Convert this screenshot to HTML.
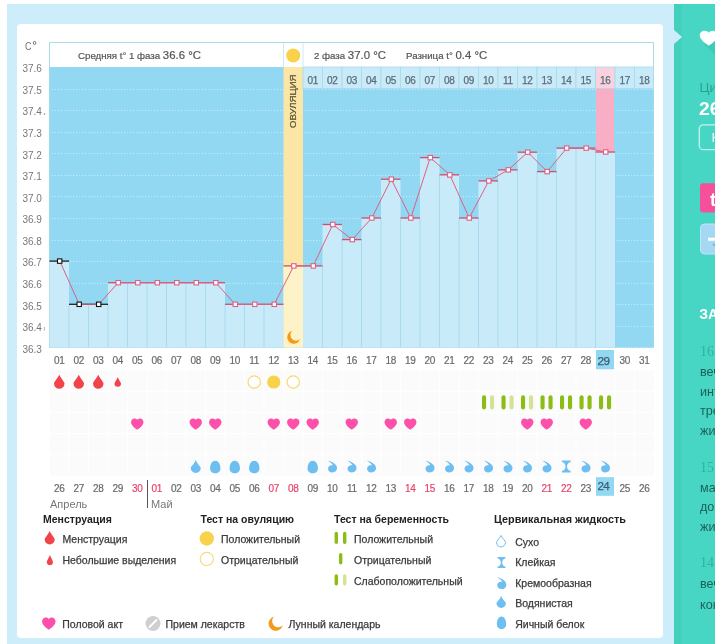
<!DOCTYPE html>
<html><head><meta charset="utf-8">
<style>
*{margin:0;padding:0;box-sizing:border-box}
html,body{width:715px;height:644px;overflow:hidden;background:#fff;font-family:"Liberation Sans",sans-serif}
.abs{position:absolute}
#outer{left:7px;top:4px;width:667px;height:640px;background:#ceedfa}
#panel{left:17px;top:24px;width:646px;height:614px;background:#fff;border-radius:4px}
#teal{left:674px;top:4px;width:41px;height:640px;background:linear-gradient(90deg,#42d0bc 0,#42d0bc 7px,#47d6c3 8px);overflow:hidden}
#tri{left:674px;top:30px;width:0;height:0;border-top:7.5px solid transparent;border-bottom:7.5px solid transparent;border-left:8px solid #ceedfa}
svg{position:absolute;left:0;top:0;will-change:transform}
svg text{font-family:"Liberation Sans",sans-serif}
.rp{position:absolute;left:26px;font-size:13px;white-space:nowrap}
</style></head><body>
<div id="outer" class="abs"></div>
<div id="panel" class="abs"></div>
<div id="teal" class="abs">
  <svg width="41" height="644" viewBox="0 0 41 644" style="top:-4px">
    <path d="M30,44 L60,74 L60,48 L44,32 Z" fill="#3ac2ae" opacity="0.55"/>
    <path transform="translate(25.7,30.7) scale(1.125,0.97)" d="M8,15.4 C7,14.5 0,10 0,4.8 C0,2 2,0 4.6,0 C6.2,0 7.4,0.9 8,2.2 C8.6,0.9 9.8,0 11.4,0 C14,0 16,2 16,4.8 C16,10 9,14.5 8,15.4 Z" fill="#fff"/>
    <text x="25.5" y="91.7" font-size="13.5" fill="#27a491">Цикл</text>
    <text x="25" y="114.8" font-size="19.2" font-weight="bold" fill="#fff">26</text>
    <rect x="25.3" y="124.8" width="40" height="24.9" rx="4" fill="none" stroke="#c4f3ea" stroke-width="1.3"/>
    <text x="37.4" y="141.9" font-size="13.5" fill="#e9fbf8">Н</text>
    <rect x="26" y="183.2" width="40" height="29.4" rx="3" fill="#f5519b"/>
    <text x="36" y="205.5" font-size="18.5" font-weight="bold" fill="#fff">t</text>
    <rect x="26.5" y="224" width="40" height="30" rx="4" fill="#a5d8f2" stroke="#bde6f6" stroke-width="1"/>
    <path d="M38,244 l5,5 l0,-6 Z" fill="#5f8fa6" opacity="0.5"/><path d="M34,237.8 h8 v-5 h3 v5 h8 v3 h-8 v5 h-3 v-5 h-8 Z" fill="#fff"/>
    <text x="25.3" y="318.7" font-size="14" font-weight="bold" fill="#fff">ЗАМЕТКИ</text>
    <text x="26" y="355.5" font-size="14" fill="#34b19f" style="font-family:'Liberation Serif',serif">16 мая</text>
    <text x="26" y="375.7" font-size="12.6" fill="#1b6259">вечером</text>
    <text x="26" y="396.2" font-size="12.6" fill="#1b6259">интенсивные</text>
    <text x="26" y="414.8" font-size="12.6" fill="#1b6259">тренировки</text>
    <text x="26" y="434.5" font-size="12.6" fill="#1b6259">живот</text>
    <text x="26" y="471.8" font-size="14" fill="#34b19f" style="font-family:'Liberation Serif',serif">15 мая</text>
    <text x="26" y="492" font-size="12.6" fill="#1b6259">маленькие</text>
    <text x="26" y="510.5" font-size="12.6" fill="#1b6259">дозы</text>
    <text x="26" y="531.1" font-size="12.6" fill="#1b6259">живот</text>
    <text x="26" y="567.4" font-size="14" fill="#34b19f" style="font-family:'Liberation Serif',serif">14 мая</text>
    <text x="26" y="588.1" font-size="12.6" fill="#1b6259">вечером</text>
    <text x="26" y="608.5" font-size="12.6" fill="#1b6259">конец</text>
  </svg>
</div>
<div id="tri" class="abs"></div>
<svg width="715" height="644" viewBox="0 0 715 644">
<rect x="49.5" y="42.5" width="604" height="305" fill="#fff" stroke="#a9dcea" stroke-width="1"/>
<rect x="49.5" y="67" width="604.0" height="280.5" fill="#92d8f3"/>
<line x1="52" y1="89.5" x2="653" y2="89.5" stroke="#d8f6ff" stroke-width="1" stroke-dasharray="1.2 1.8" opacity="0.65"/>
<line x1="52" y1="110.5" x2="653" y2="110.5" stroke="#d8f6ff" stroke-width="1" stroke-dasharray="1.2 1.8" opacity="0.65"/>
<line x1="52" y1="132.5" x2="653" y2="132.5" stroke="#d8f6ff" stroke-width="1" stroke-dasharray="1.2 1.8" opacity="0.65"/>
<line x1="52" y1="153.5" x2="653" y2="153.5" stroke="#d8f6ff" stroke-width="1" stroke-dasharray="1.2 1.8" opacity="0.65"/>
<line x1="52" y1="175.5" x2="653" y2="175.5" stroke="#d8f6ff" stroke-width="1" stroke-dasharray="1.2 1.8" opacity="0.65"/>
<line x1="52" y1="196.5" x2="653" y2="196.5" stroke="#d8f6ff" stroke-width="1" stroke-dasharray="1.2 1.8" opacity="0.65"/>
<line x1="52" y1="218.5" x2="653" y2="218.5" stroke="#d8f6ff" stroke-width="1" stroke-dasharray="1.2 1.8" opacity="0.65"/>
<line x1="52" y1="240.5" x2="653" y2="240.5" stroke="#d8f6ff" stroke-width="1" stroke-dasharray="1.2 1.8" opacity="0.65"/>
<line x1="52" y1="261.5" x2="653" y2="261.5" stroke="#d8f6ff" stroke-width="1" stroke-dasharray="1.2 1.8" opacity="0.65"/>
<line x1="52" y1="283.5" x2="653" y2="283.5" stroke="#d8f6ff" stroke-width="1" stroke-dasharray="1.2 1.8" opacity="0.65"/>
<line x1="52" y1="304.5" x2="653" y2="304.5" stroke="#d8f6ff" stroke-width="1" stroke-dasharray="1.2 1.8" opacity="0.65"/>
<line x1="52" y1="326.5" x2="653" y2="326.5" stroke="#d8f6ff" stroke-width="1" stroke-dasharray="1.2 1.8" opacity="0.65"/>
<line x1="52" y1="347.5" x2="653" y2="347.5" stroke="#d8f6ff" stroke-width="1" stroke-dasharray="1.2 1.8" opacity="0.65"/>
<rect x="283.5" y="67" width="19.5" height="280.5" fill="#fbe6a5"/>
<rect x="596" y="67" width="18" height="85.0" fill="#f8afc5"/>
<rect x="49.5" y="261.1" width="19.5" height="86.4" fill="#c9eaf9"/>
<rect x="69.0" y="304.3" width="19.5" height="43.2" fill="#c9eaf9"/>
<rect x="88.5" y="304.3" width="19.5" height="43.2" fill="#c9eaf9"/>
<rect x="108.0" y="282.7" width="19.5" height="64.8" fill="#c9eaf9"/>
<rect x="127.5" y="282.7" width="19.5" height="64.8" fill="#c9eaf9"/>
<rect x="147.0" y="282.7" width="19.5" height="64.8" fill="#c9eaf9"/>
<rect x="166.5" y="282.7" width="19.5" height="64.8" fill="#c9eaf9"/>
<rect x="186.0" y="282.7" width="19.5" height="64.8" fill="#c9eaf9"/>
<rect x="205.5" y="282.7" width="19.5" height="64.8" fill="#c9eaf9"/>
<rect x="225.0" y="304.3" width="19.5" height="43.2" fill="#c9eaf9"/>
<rect x="244.5" y="304.3" width="19.5" height="43.2" fill="#c9eaf9"/>
<rect x="264.0" y="304.3" width="19.5" height="43.2" fill="#c9eaf9"/>
<rect x="283.5" y="265.9" width="19.5" height="81.6" fill="#fef2c9"/>
<rect x="303.0" y="265.9" width="19.5" height="81.6" fill="#c9eaf9"/>
<rect x="322.5" y="224.5" width="19.5" height="123.0" fill="#c9eaf9"/>
<rect x="342.0" y="239.6" width="19.5" height="107.9" fill="#c9eaf9"/>
<rect x="361.5" y="218.0" width="19.5" height="129.5" fill="#c9eaf9"/>
<rect x="381.0" y="179.2" width="19.5" height="168.3" fill="#c9eaf9"/>
<rect x="400.5" y="218.0" width="19.5" height="129.5" fill="#c9eaf9"/>
<rect x="420.0" y="157.6" width="19.5" height="189.9" fill="#c9eaf9"/>
<rect x="439.5" y="174.8" width="19.5" height="172.7" fill="#c9eaf9"/>
<rect x="459.0" y="218.0" width="19.5" height="129.5" fill="#c9eaf9"/>
<rect x="478.5" y="180.9" width="19.5" height="166.6" fill="#c9eaf9"/>
<rect x="498.0" y="169.9" width="19.5" height="177.6" fill="#c9eaf9"/>
<rect x="517.5" y="152.2" width="19.5" height="195.3" fill="#c9eaf9"/>
<rect x="537.0" y="171.6" width="19.5" height="175.9" fill="#c9eaf9"/>
<rect x="556.5" y="148.1" width="19.5" height="199.4" fill="#c9eaf9"/>
<rect x="576.0" y="148.1" width="19.5" height="199.4" fill="#c9eaf9"/>
<rect x="595.5" y="152.0" width="19.5" height="195.5" fill="#c9eaf9"/>
<line x1="69.0" y1="304.3" x2="69.0" y2="347.5" stroke="#a9dbef" stroke-width="1"/>
<line x1="88.5" y1="304.3" x2="88.5" y2="347.5" stroke="#a9dbef" stroke-width="1"/>
<line x1="108.0" y1="304.3" x2="108.0" y2="347.5" stroke="#a9dbef" stroke-width="1"/>
<line x1="127.5" y1="282.7" x2="127.5" y2="347.5" stroke="#a9dbef" stroke-width="1"/>
<line x1="147.0" y1="282.7" x2="147.0" y2="347.5" stroke="#a9dbef" stroke-width="1"/>
<line x1="166.5" y1="282.7" x2="166.5" y2="347.5" stroke="#a9dbef" stroke-width="1"/>
<line x1="186.0" y1="282.7" x2="186.0" y2="347.5" stroke="#a9dbef" stroke-width="1"/>
<line x1="205.5" y1="282.7" x2="205.5" y2="347.5" stroke="#a9dbef" stroke-width="1"/>
<line x1="225.0" y1="304.3" x2="225.0" y2="347.5" stroke="#a9dbef" stroke-width="1"/>
<line x1="244.5" y1="304.3" x2="244.5" y2="347.5" stroke="#a9dbef" stroke-width="1"/>
<line x1="264.0" y1="304.3" x2="264.0" y2="347.5" stroke="#a9dbef" stroke-width="1"/>
<line x1="322.5" y1="265.9" x2="322.5" y2="347.5" stroke="#a9dbef" stroke-width="1"/>
<line x1="342.0" y1="239.6" x2="342.0" y2="347.5" stroke="#a9dbef" stroke-width="1"/>
<line x1="361.5" y1="239.6" x2="361.5" y2="347.5" stroke="#a9dbef" stroke-width="1"/>
<line x1="381.0" y1="218.0" x2="381.0" y2="347.5" stroke="#a9dbef" stroke-width="1"/>
<line x1="400.5" y1="218.0" x2="400.5" y2="347.5" stroke="#a9dbef" stroke-width="1"/>
<line x1="420.0" y1="218.0" x2="420.0" y2="347.5" stroke="#a9dbef" stroke-width="1"/>
<line x1="439.5" y1="174.8" x2="439.5" y2="347.5" stroke="#a9dbef" stroke-width="1"/>
<line x1="459.0" y1="218.0" x2="459.0" y2="347.5" stroke="#a9dbef" stroke-width="1"/>
<line x1="478.5" y1="218.0" x2="478.5" y2="347.5" stroke="#a9dbef" stroke-width="1"/>
<line x1="498.0" y1="180.9" x2="498.0" y2="347.5" stroke="#a9dbef" stroke-width="1"/>
<line x1="517.5" y1="169.9" x2="517.5" y2="347.5" stroke="#a9dbef" stroke-width="1"/>
<line x1="537.0" y1="171.6" x2="537.0" y2="347.5" stroke="#a9dbef" stroke-width="1"/>
<line x1="556.5" y1="171.6" x2="556.5" y2="347.5" stroke="#a9dbef" stroke-width="1"/>
<line x1="576.0" y1="148.1" x2="576.0" y2="347.5" stroke="#a9dbef" stroke-width="1"/>
<line x1="595.5" y1="152.0" x2="595.5" y2="347.5" stroke="#a9dbef" stroke-width="1"/>
<rect x="303.0" y="67" width="19.5" height="21.5" fill="#c9eaf9" stroke="#a9d9ee" stroke-width="0.8"/>
<text x="312.8" y="84" text-anchor="middle" font-size="10" fill="#5b6d7a" stroke="#5b6d7a" stroke-width="0.25" letter-spacing="-0.3">01</text>
<rect x="322.5" y="67" width="19.5" height="21.5" fill="#c9eaf9" stroke="#a9d9ee" stroke-width="0.8"/>
<text x="332.2" y="84" text-anchor="middle" font-size="10" fill="#5b6d7a" stroke="#5b6d7a" stroke-width="0.25" letter-spacing="-0.3">02</text>
<rect x="342.0" y="67" width="19.5" height="21.5" fill="#c9eaf9" stroke="#a9d9ee" stroke-width="0.8"/>
<text x="351.8" y="84" text-anchor="middle" font-size="10" fill="#5b6d7a" stroke="#5b6d7a" stroke-width="0.25" letter-spacing="-0.3">03</text>
<rect x="361.5" y="67" width="19.5" height="21.5" fill="#c9eaf9" stroke="#a9d9ee" stroke-width="0.8"/>
<text x="371.2" y="84" text-anchor="middle" font-size="10" fill="#5b6d7a" stroke="#5b6d7a" stroke-width="0.25" letter-spacing="-0.3">04</text>
<rect x="381.0" y="67" width="19.5" height="21.5" fill="#c9eaf9" stroke="#a9d9ee" stroke-width="0.8"/>
<text x="390.8" y="84" text-anchor="middle" font-size="10" fill="#5b6d7a" stroke="#5b6d7a" stroke-width="0.25" letter-spacing="-0.3">05</text>
<rect x="400.5" y="67" width="19.5" height="21.5" fill="#c9eaf9" stroke="#a9d9ee" stroke-width="0.8"/>
<text x="410.2" y="84" text-anchor="middle" font-size="10" fill="#5b6d7a" stroke="#5b6d7a" stroke-width="0.25" letter-spacing="-0.3">06</text>
<rect x="420.0" y="67" width="19.5" height="21.5" fill="#c9eaf9" stroke="#a9d9ee" stroke-width="0.8"/>
<text x="429.8" y="84" text-anchor="middle" font-size="10" fill="#5b6d7a" stroke="#5b6d7a" stroke-width="0.25" letter-spacing="-0.3">07</text>
<rect x="439.5" y="67" width="19.5" height="21.5" fill="#c9eaf9" stroke="#a9d9ee" stroke-width="0.8"/>
<text x="449.2" y="84" text-anchor="middle" font-size="10" fill="#5b6d7a" stroke="#5b6d7a" stroke-width="0.25" letter-spacing="-0.3">08</text>
<rect x="459.0" y="67" width="19.5" height="21.5" fill="#c9eaf9" stroke="#a9d9ee" stroke-width="0.8"/>
<text x="468.8" y="84" text-anchor="middle" font-size="10" fill="#5b6d7a" stroke="#5b6d7a" stroke-width="0.25" letter-spacing="-0.3">09</text>
<rect x="478.5" y="67" width="19.5" height="21.5" fill="#c9eaf9" stroke="#a9d9ee" stroke-width="0.8"/>
<text x="488.2" y="84" text-anchor="middle" font-size="10" fill="#5b6d7a" stroke="#5b6d7a" stroke-width="0.25" letter-spacing="-0.3">10</text>
<rect x="498.0" y="67" width="19.5" height="21.5" fill="#c9eaf9" stroke="#a9d9ee" stroke-width="0.8"/>
<text x="507.8" y="84" text-anchor="middle" font-size="10" fill="#5b6d7a" stroke="#5b6d7a" stroke-width="0.25" letter-spacing="-0.3">11</text>
<rect x="517.5" y="67" width="19.5" height="21.5" fill="#c9eaf9" stroke="#a9d9ee" stroke-width="0.8"/>
<text x="527.2" y="84" text-anchor="middle" font-size="10" fill="#5b6d7a" stroke="#5b6d7a" stroke-width="0.25" letter-spacing="-0.3">12</text>
<rect x="537.0" y="67" width="19.5" height="21.5" fill="#c9eaf9" stroke="#a9d9ee" stroke-width="0.8"/>
<text x="546.8" y="84" text-anchor="middle" font-size="10" fill="#5b6d7a" stroke="#5b6d7a" stroke-width="0.25" letter-spacing="-0.3">13</text>
<rect x="556.5" y="67" width="19.5" height="21.5" fill="#c9eaf9" stroke="#a9d9ee" stroke-width="0.8"/>
<text x="566.2" y="84" text-anchor="middle" font-size="10" fill="#5b6d7a" stroke="#5b6d7a" stroke-width="0.25" letter-spacing="-0.3">14</text>
<rect x="576.0" y="67" width="19.5" height="21.5" fill="#c9eaf9" stroke="#a9d9ee" stroke-width="0.8"/>
<text x="585.8" y="84" text-anchor="middle" font-size="10" fill="#5b6d7a" stroke="#5b6d7a" stroke-width="0.25" letter-spacing="-0.3">15</text>
<rect x="595.5" y="67" width="19.5" height="21.5" fill="#fad2de" stroke="#a9d9ee" stroke-width="0.8"/>
<text x="605.2" y="84" text-anchor="middle" font-size="10" fill="#5b6d7a" stroke="#5b6d7a" stroke-width="0.25" letter-spacing="-0.3">16</text>
<rect x="615.0" y="67" width="19.5" height="21.5" fill="#c9eaf9" stroke="#a9d9ee" stroke-width="0.8"/>
<text x="624.8" y="84" text-anchor="middle" font-size="10" fill="#5b6d7a" stroke="#5b6d7a" stroke-width="0.25" letter-spacing="-0.3">17</text>
<rect x="634.5" y="67" width="19.0" height="21.5" fill="#c9eaf9" stroke="#a9d9ee" stroke-width="0.8"/>
<text x="644.2" y="84" text-anchor="middle" font-size="10" fill="#5b6d7a" stroke="#5b6d7a" stroke-width="0.25" letter-spacing="-0.3">18</text>
<line x1="49.5" y1="261.1" x2="69.0" y2="261.1" stroke="#222" stroke-width="1.3"/>
<line x1="69.0" y1="304.3" x2="88.5" y2="304.3" stroke="#222" stroke-width="1.3"/>
<line x1="88.5" y1="304.3" x2="108.0" y2="304.3" stroke="#222" stroke-width="1.3"/>
<line x1="108.0" y1="282.7" x2="127.5" y2="282.7" stroke="#d24d6b" stroke-width="1.3"/>
<line x1="127.5" y1="282.7" x2="147.0" y2="282.7" stroke="#d24d6b" stroke-width="1.3"/>
<line x1="147.0" y1="282.7" x2="166.5" y2="282.7" stroke="#d24d6b" stroke-width="1.3"/>
<line x1="166.5" y1="282.7" x2="186.0" y2="282.7" stroke="#d24d6b" stroke-width="1.3"/>
<line x1="186.0" y1="282.7" x2="205.5" y2="282.7" stroke="#d24d6b" stroke-width="1.3"/>
<line x1="205.5" y1="282.7" x2="225.0" y2="282.7" stroke="#d24d6b" stroke-width="1.3"/>
<line x1="225.0" y1="304.3" x2="244.5" y2="304.3" stroke="#d24d6b" stroke-width="1.3"/>
<line x1="244.5" y1="304.3" x2="264.0" y2="304.3" stroke="#d24d6b" stroke-width="1.3"/>
<line x1="264.0" y1="304.3" x2="283.5" y2="304.3" stroke="#d24d6b" stroke-width="1.3"/>
<line x1="283.5" y1="265.9" x2="303.0" y2="265.9" stroke="#d24d6b" stroke-width="1.3"/>
<line x1="303.0" y1="265.9" x2="322.5" y2="265.9" stroke="#d24d6b" stroke-width="1.3"/>
<line x1="322.5" y1="224.5" x2="342.0" y2="224.5" stroke="#d24d6b" stroke-width="1.3"/>
<line x1="342.0" y1="239.6" x2="361.5" y2="239.6" stroke="#d24d6b" stroke-width="1.3"/>
<line x1="361.5" y1="218.0" x2="381.0" y2="218.0" stroke="#d24d6b" stroke-width="1.3"/>
<line x1="381.0" y1="179.2" x2="400.5" y2="179.2" stroke="#d24d6b" stroke-width="1.3"/>
<line x1="400.5" y1="218.0" x2="420.0" y2="218.0" stroke="#d24d6b" stroke-width="1.3"/>
<line x1="420.0" y1="157.6" x2="439.5" y2="157.6" stroke="#d24d6b" stroke-width="1.3"/>
<line x1="439.5" y1="174.8" x2="459.0" y2="174.8" stroke="#d24d6b" stroke-width="1.3"/>
<line x1="459.0" y1="218.0" x2="478.5" y2="218.0" stroke="#d24d6b" stroke-width="1.3"/>
<line x1="478.5" y1="180.9" x2="498.0" y2="180.9" stroke="#d24d6b" stroke-width="1.3"/>
<line x1="498.0" y1="169.9" x2="517.5" y2="169.9" stroke="#d24d6b" stroke-width="1.3"/>
<line x1="517.5" y1="152.2" x2="537.0" y2="152.2" stroke="#d24d6b" stroke-width="1.3"/>
<line x1="537.0" y1="171.6" x2="556.5" y2="171.6" stroke="#d24d6b" stroke-width="1.3"/>
<line x1="556.5" y1="148.1" x2="576.0" y2="148.1" stroke="#d24d6b" stroke-width="1.3"/>
<line x1="576.0" y1="148.1" x2="595.5" y2="148.1" stroke="#d24d6b" stroke-width="1.3"/>
<line x1="595.5" y1="152.0" x2="615.0" y2="152.0" stroke="#d24d6b" stroke-width="1.3"/>
<polyline points="59.8,261.1 79.2,304.3 98.8,304.3 118.2,282.7 137.8,282.7 157.2,282.7 176.8,282.7 196.2,282.7 215.8,282.7 235.2,304.3 254.8,304.3 274.2,304.3 293.8,265.9 313.2,265.9 332.8,224.5 352.2,239.6 371.8,218.0 391.2,179.2 410.8,218.0 430.2,157.6 449.8,174.8 469.2,218.0 488.8,180.9 508.2,169.9 527.8,152.2 547.2,171.6 566.8,148.1 586.2,148.1 605.8,152.0" fill="none" stroke="#dc6284" stroke-width="1"/>
<rect x="57.5" y="258.9" width="4.4" height="4.4" fill="#fff" stroke="#111" stroke-width="1.1"/>
<rect x="77.0" y="302.1" width="4.4" height="4.4" fill="#fff" stroke="#111" stroke-width="1.1"/>
<rect x="96.5" y="302.1" width="4.4" height="4.4" fill="#fff" stroke="#111" stroke-width="1.1"/>
<rect x="116.0" y="280.5" width="4.4" height="4.4" fill="#fff" stroke="#dc6284" stroke-width="1.1"/>
<rect x="135.6" y="280.5" width="4.4" height="4.4" fill="#fff" stroke="#dc6284" stroke-width="1.1"/>
<rect x="155.1" y="280.5" width="4.4" height="4.4" fill="#fff" stroke="#dc6284" stroke-width="1.1"/>
<rect x="174.6" y="280.5" width="4.4" height="4.4" fill="#fff" stroke="#dc6284" stroke-width="1.1"/>
<rect x="194.1" y="280.5" width="4.4" height="4.4" fill="#fff" stroke="#dc6284" stroke-width="1.1"/>
<rect x="213.6" y="280.5" width="4.4" height="4.4" fill="#fff" stroke="#dc6284" stroke-width="1.1"/>
<rect x="233.1" y="302.1" width="4.4" height="4.4" fill="#fff" stroke="#dc6284" stroke-width="1.1"/>
<rect x="252.6" y="302.1" width="4.4" height="4.4" fill="#fff" stroke="#dc6284" stroke-width="1.1"/>
<rect x="272.1" y="302.1" width="4.4" height="4.4" fill="#fff" stroke="#dc6284" stroke-width="1.1"/>
<rect x="291.6" y="263.7" width="4.4" height="4.4" fill="#fff" stroke="#dc6284" stroke-width="1.1"/>
<rect x="311.1" y="263.7" width="4.4" height="4.4" fill="#fff" stroke="#dc6284" stroke-width="1.1"/>
<rect x="330.6" y="222.3" width="4.4" height="4.4" fill="#fff" stroke="#dc6284" stroke-width="1.1"/>
<rect x="350.1" y="237.4" width="4.4" height="4.4" fill="#fff" stroke="#dc6284" stroke-width="1.1"/>
<rect x="369.6" y="215.8" width="4.4" height="4.4" fill="#fff" stroke="#dc6284" stroke-width="1.1"/>
<rect x="389.1" y="177.0" width="4.4" height="4.4" fill="#fff" stroke="#dc6284" stroke-width="1.1"/>
<rect x="408.6" y="215.8" width="4.4" height="4.4" fill="#fff" stroke="#dc6284" stroke-width="1.1"/>
<rect x="428.1" y="155.4" width="4.4" height="4.4" fill="#fff" stroke="#dc6284" stroke-width="1.1"/>
<rect x="447.6" y="172.7" width="4.4" height="4.4" fill="#fff" stroke="#dc6284" stroke-width="1.1"/>
<rect x="467.1" y="215.8" width="4.4" height="4.4" fill="#fff" stroke="#dc6284" stroke-width="1.1"/>
<rect x="486.6" y="178.7" width="4.4" height="4.4" fill="#fff" stroke="#dc6284" stroke-width="1.1"/>
<rect x="506.1" y="167.7" width="4.4" height="4.4" fill="#fff" stroke="#dc6284" stroke-width="1.1"/>
<rect x="525.5" y="150.0" width="4.4" height="4.4" fill="#fff" stroke="#dc6284" stroke-width="1.1"/>
<rect x="545.0" y="169.4" width="4.4" height="4.4" fill="#fff" stroke="#dc6284" stroke-width="1.1"/>
<rect x="564.5" y="145.9" width="4.4" height="4.4" fill="#fff" stroke="#dc6284" stroke-width="1.1"/>
<rect x="584.0" y="145.9" width="4.4" height="4.4" fill="#fff" stroke="#dc6284" stroke-width="1.1"/>
<rect x="603.5" y="149.8" width="4.4" height="4.4" fill="#fff" stroke="#dc6284" stroke-width="1.1"/>
<line x1="283.5" y1="43" x2="283.5" y2="67" stroke="#cfe9f3" stroke-width="1"/>
<line x1="303.0" y1="43" x2="303.0" y2="67" stroke="#cfe9f3" stroke-width="1"/>
<circle cx="293.2" cy="55.5" r="7" fill="#f8d24a"/>
<text transform="translate(296,128) rotate(-90)" font-size="9.6" fill="#5a5238" stroke="#5a5238" stroke-width="0.2" letter-spacing="0">ОВУЛЯЦИЯ</text>
<path d="M292.20,331.00 A6.5,6.5 0 1 0 300.00,339.12 A5.20,5.20 0 0 1 292.20,331.00 Z" fill="#f39a1d"/>
<text x="78" y="58.7" font-size="9.7" fill="#555" stroke="#555" stroke-width="0.2">Средняя t° 1 фаза <tspan font-size="11.4">36.6 °C</tspan></text>
<text x="314" y="58.7" font-size="9.7" fill="#555" stroke="#555" stroke-width="0.2">2 фаза <tspan font-size="11.4">37.0 °C</tspan></text>
<text x="406" y="58.7" font-size="9.7" fill="#555" stroke="#555" stroke-width="0.2">Разница t° <tspan font-size="11.4">0.4 °C</tspan></text>
<text transform="translate(25,50) scale(0.82,1)" font-size="11" fill="#6f6f6f">C</text>
<ellipse cx="34.6" cy="42.9" rx="1.3" ry="1.5" fill="none" stroke="#666" stroke-width="0.9"/>
<text x="22.6" y="72.3" font-size="10" fill="#777" letter-spacing="-0.1">37.6</text>
<text x="22.6" y="93.9" font-size="10" fill="#777" letter-spacing="-0.1">37.5</text>
<text x="22.6" y="115.4" font-size="10" fill="#777" letter-spacing="-0.1">37.4</text>
<text x="22.6" y="137.0" font-size="10" fill="#777" letter-spacing="-0.1">37.3</text>
<text x="22.6" y="158.6" font-size="10" fill="#777" letter-spacing="-0.1">37.2</text>
<text x="22.6" y="180.2" font-size="10" fill="#777" letter-spacing="-0.1">37.1</text>
<text x="22.6" y="201.7" font-size="10" fill="#777" letter-spacing="-0.1">37.0</text>
<text x="22.6" y="223.3" font-size="10" fill="#777" letter-spacing="-0.1">36.9</text>
<text x="22.6" y="244.9" font-size="10" fill="#777" letter-spacing="-0.1">36.8</text>
<text x="22.6" y="266.4" font-size="10" fill="#777" letter-spacing="-0.1">36.7</text>
<text x="22.6" y="288.0" font-size="10" fill="#777" letter-spacing="-0.1">36.6</text>
<text x="22.6" y="309.6" font-size="10" fill="#777" letter-spacing="-0.1">36.5</text>
<text x="22.6" y="331.1" font-size="10" fill="#777" letter-spacing="-0.1">36.4</text>
<text x="22.6" y="352.7" font-size="10" fill="#777" letter-spacing="-0.1">36.3</text>
<circle cx="44.5" cy="113.9" r="0.75" fill="#777"/>
<line x1="44.4" y1="327" x2="44.4" y2="330.5" stroke="#999" stroke-width="0.8"/>
<text x="59.2" y="364" text-anchor="middle" font-size="10" fill="#6a6a6a" stroke="#6a6a6a" stroke-width="0.2" letter-spacing="-0.3">01</text>
<text x="78.8" y="364" text-anchor="middle" font-size="10" fill="#6a6a6a" stroke="#6a6a6a" stroke-width="0.2" letter-spacing="-0.3">02</text>
<text x="98.2" y="364" text-anchor="middle" font-size="10" fill="#6a6a6a" stroke="#6a6a6a" stroke-width="0.2" letter-spacing="-0.3">03</text>
<text x="117.8" y="364" text-anchor="middle" font-size="10" fill="#6a6a6a" stroke="#6a6a6a" stroke-width="0.2" letter-spacing="-0.3">04</text>
<text x="137.2" y="364" text-anchor="middle" font-size="10" fill="#6a6a6a" stroke="#6a6a6a" stroke-width="0.2" letter-spacing="-0.3">05</text>
<text x="156.8" y="364" text-anchor="middle" font-size="10" fill="#6a6a6a" stroke="#6a6a6a" stroke-width="0.2" letter-spacing="-0.3">06</text>
<text x="176.2" y="364" text-anchor="middle" font-size="10" fill="#6a6a6a" stroke="#6a6a6a" stroke-width="0.2" letter-spacing="-0.3">07</text>
<text x="195.8" y="364" text-anchor="middle" font-size="10" fill="#6a6a6a" stroke="#6a6a6a" stroke-width="0.2" letter-spacing="-0.3">08</text>
<text x="215.2" y="364" text-anchor="middle" font-size="10" fill="#6a6a6a" stroke="#6a6a6a" stroke-width="0.2" letter-spacing="-0.3">09</text>
<text x="234.8" y="364" text-anchor="middle" font-size="10" fill="#6a6a6a" stroke="#6a6a6a" stroke-width="0.2" letter-spacing="-0.3">10</text>
<text x="254.2" y="364" text-anchor="middle" font-size="10" fill="#6a6a6a" stroke="#6a6a6a" stroke-width="0.2" letter-spacing="-0.3">11</text>
<text x="273.8" y="364" text-anchor="middle" font-size="10" fill="#6a6a6a" stroke="#6a6a6a" stroke-width="0.2" letter-spacing="-0.3">12</text>
<text x="293.2" y="364" text-anchor="middle" font-size="10" fill="#6a6a6a" stroke="#6a6a6a" stroke-width="0.2" letter-spacing="-0.3">13</text>
<text x="312.8" y="364" text-anchor="middle" font-size="10" fill="#6a6a6a" stroke="#6a6a6a" stroke-width="0.2" letter-spacing="-0.3">14</text>
<text x="332.2" y="364" text-anchor="middle" font-size="10" fill="#6a6a6a" stroke="#6a6a6a" stroke-width="0.2" letter-spacing="-0.3">15</text>
<text x="351.8" y="364" text-anchor="middle" font-size="10" fill="#6a6a6a" stroke="#6a6a6a" stroke-width="0.2" letter-spacing="-0.3">16</text>
<text x="371.2" y="364" text-anchor="middle" font-size="10" fill="#6a6a6a" stroke="#6a6a6a" stroke-width="0.2" letter-spacing="-0.3">17</text>
<text x="390.8" y="364" text-anchor="middle" font-size="10" fill="#6a6a6a" stroke="#6a6a6a" stroke-width="0.2" letter-spacing="-0.3">18</text>
<text x="410.2" y="364" text-anchor="middle" font-size="10" fill="#6a6a6a" stroke="#6a6a6a" stroke-width="0.2" letter-spacing="-0.3">19</text>
<text x="429.8" y="364" text-anchor="middle" font-size="10" fill="#6a6a6a" stroke="#6a6a6a" stroke-width="0.2" letter-spacing="-0.3">20</text>
<text x="449.2" y="364" text-anchor="middle" font-size="10" fill="#6a6a6a" stroke="#6a6a6a" stroke-width="0.2" letter-spacing="-0.3">21</text>
<text x="468.8" y="364" text-anchor="middle" font-size="10" fill="#6a6a6a" stroke="#6a6a6a" stroke-width="0.2" letter-spacing="-0.3">22</text>
<text x="488.2" y="364" text-anchor="middle" font-size="10" fill="#6a6a6a" stroke="#6a6a6a" stroke-width="0.2" letter-spacing="-0.3">23</text>
<text x="507.8" y="364" text-anchor="middle" font-size="10" fill="#6a6a6a" stroke="#6a6a6a" stroke-width="0.2" letter-spacing="-0.3">24</text>
<text x="527.2" y="364" text-anchor="middle" font-size="10" fill="#6a6a6a" stroke="#6a6a6a" stroke-width="0.2" letter-spacing="-0.3">25</text>
<text x="546.8" y="364" text-anchor="middle" font-size="10" fill="#6a6a6a" stroke="#6a6a6a" stroke-width="0.2" letter-spacing="-0.3">26</text>
<text x="566.2" y="364" text-anchor="middle" font-size="10" fill="#6a6a6a" stroke="#6a6a6a" stroke-width="0.2" letter-spacing="-0.3">27</text>
<text x="585.8" y="364" text-anchor="middle" font-size="10" fill="#6a6a6a" stroke="#6a6a6a" stroke-width="0.2" letter-spacing="-0.3">28</text>
<rect x="596" y="350" width="18" height="19.6" fill="#92d8f3"/>
<text x="597.6" y="364.5" font-size="11.8" fill="#3d5c6e" stroke="#3d5c6e" stroke-width="0.25" letter-spacing="-0.7">29</text>
<text x="624.8" y="364" text-anchor="middle" font-size="10" fill="#6a6a6a" stroke="#6a6a6a" stroke-width="0.2" letter-spacing="-0.3">30</text>
<text x="644.2" y="364" text-anchor="middle" font-size="10" fill="#6a6a6a" stroke="#6a6a6a" stroke-width="0.2" letter-spacing="-0.3">31</text>
<rect x="49" y="370" width="605" height="106" fill="#fbfbfb"/>
<line x1="49.5" y1="370" x2="49.5" y2="476" stroke="#fff" stroke-width="1"/>
<line x1="69.0" y1="370" x2="69.0" y2="476" stroke="#fff" stroke-width="1"/>
<line x1="88.5" y1="370" x2="88.5" y2="476" stroke="#fff" stroke-width="1"/>
<line x1="108.0" y1="370" x2="108.0" y2="476" stroke="#fff" stroke-width="1"/>
<line x1="127.5" y1="370" x2="127.5" y2="476" stroke="#fff" stroke-width="1"/>
<line x1="147.0" y1="370" x2="147.0" y2="476" stroke="#fff" stroke-width="1"/>
<line x1="166.5" y1="370" x2="166.5" y2="476" stroke="#fff" stroke-width="1"/>
<line x1="186.0" y1="370" x2="186.0" y2="476" stroke="#fff" stroke-width="1"/>
<line x1="205.5" y1="370" x2="205.5" y2="476" stroke="#fff" stroke-width="1"/>
<line x1="225.0" y1="370" x2="225.0" y2="476" stroke="#fff" stroke-width="1"/>
<line x1="244.5" y1="370" x2="244.5" y2="476" stroke="#fff" stroke-width="1"/>
<line x1="264.0" y1="370" x2="264.0" y2="476" stroke="#fff" stroke-width="1"/>
<line x1="283.5" y1="370" x2="283.5" y2="476" stroke="#fff" stroke-width="1"/>
<line x1="303.0" y1="370" x2="303.0" y2="476" stroke="#fff" stroke-width="1"/>
<line x1="322.5" y1="370" x2="322.5" y2="476" stroke="#fff" stroke-width="1"/>
<line x1="342.0" y1="370" x2="342.0" y2="476" stroke="#fff" stroke-width="1"/>
<line x1="361.5" y1="370" x2="361.5" y2="476" stroke="#fff" stroke-width="1"/>
<line x1="381.0" y1="370" x2="381.0" y2="476" stroke="#fff" stroke-width="1"/>
<line x1="400.5" y1="370" x2="400.5" y2="476" stroke="#fff" stroke-width="1"/>
<line x1="420.0" y1="370" x2="420.0" y2="476" stroke="#fff" stroke-width="1"/>
<line x1="439.5" y1="370" x2="439.5" y2="476" stroke="#fff" stroke-width="1"/>
<line x1="459.0" y1="370" x2="459.0" y2="476" stroke="#fff" stroke-width="1"/>
<line x1="478.5" y1="370" x2="478.5" y2="476" stroke="#fff" stroke-width="1"/>
<line x1="498.0" y1="370" x2="498.0" y2="476" stroke="#fff" stroke-width="1"/>
<line x1="517.5" y1="370" x2="517.5" y2="476" stroke="#fff" stroke-width="1"/>
<line x1="537.0" y1="370" x2="537.0" y2="476" stroke="#fff" stroke-width="1"/>
<line x1="556.5" y1="370" x2="556.5" y2="476" stroke="#fff" stroke-width="1"/>
<line x1="576.0" y1="370" x2="576.0" y2="476" stroke="#fff" stroke-width="1"/>
<line x1="595.5" y1="370" x2="595.5" y2="476" stroke="#fff" stroke-width="1"/>
<line x1="615.0" y1="370" x2="615.0" y2="476" stroke="#fff" stroke-width="1"/>
<line x1="634.5" y1="370" x2="634.5" y2="476" stroke="#fff" stroke-width="1"/>
<line x1="49" y1="370.0" x2="654" y2="370.0" stroke="#fff" stroke-width="1"/>
<line x1="49" y1="391.2" x2="654" y2="391.2" stroke="#fff" stroke-width="1"/>
<line x1="49" y1="412.4" x2="654" y2="412.4" stroke="#fff" stroke-width="1"/>
<line x1="49" y1="433.6" x2="654" y2="433.6" stroke="#fff" stroke-width="1"/>
<line x1="49" y1="454.8" x2="654" y2="454.8" stroke="#fff" stroke-width="1"/>
<line x1="49" y1="476.0" x2="654" y2="476.0" stroke="#fff" stroke-width="1"/>
<path d="M59.25,374.70 C60.83,378.20 64.50,381.88 64.50,383.45 A5.25,5.25 0 0 1 54.00,383.45 C54.00,381.88 57.67,378.20 59.25,374.70 Z" fill="#f2434b"/>
<path d="M78.75,374.70 C80.33,378.20 84.00,381.88 84.00,383.45 A5.25,5.25 0 0 1 73.50,383.45 C73.50,381.88 77.17,378.20 78.75,374.70 Z" fill="#f2434b"/>
<path d="M98.25,374.70 C99.83,378.20 103.50,381.88 103.50,383.45 A5.25,5.25 0 0 1 93.00,383.45 C93.00,381.88 96.67,378.20 98.25,374.70 Z" fill="#f2434b"/>
<path d="M117.75,377.25 C118.72,379.62 121.00,382.52 121.00,383.50 A3.25,3.25 0 0 1 114.50,383.50 C114.50,382.52 116.78,379.62 117.75,377.25 Z" fill="#f2434b"/>
<circle cx="254.25" cy="382" r="6.2" fill="#fff" stroke="#f6d873" stroke-width="1.2"/>
<circle cx="273.75" cy="382" r="6.6" fill="#f8d24a"/>
<circle cx="293.25" cy="382" r="6.2" fill="#fff" stroke="#f6d873" stroke-width="1.2"/>
<rect x="482.00" y="395.20" width="4.1" height="14.30" rx="2.05" fill="#8cbd16"/>
<rect x="490.00" y="395.20" width="4.1" height="14.30" rx="2.05" fill="#d2e396"/>
<rect x="501.50" y="395.20" width="4.1" height="14.30" rx="2.05" fill="#8cbd16"/>
<rect x="509.50" y="395.20" width="4.1" height="14.30" rx="2.05" fill="#d2e396"/>
<rect x="521.00" y="395.20" width="4.1" height="14.30" rx="2.05" fill="#8cbd16"/>
<rect x="529.00" y="395.20" width="4.1" height="14.30" rx="2.05" fill="#d2e396"/>
<rect x="540.50" y="395.20" width="4.1" height="14.30" rx="2.05" fill="#8cbd16"/>
<rect x="548.50" y="395.20" width="4.1" height="14.30" rx="2.05" fill="#8cbd16"/>
<rect x="560.00" y="395.20" width="4.1" height="14.30" rx="2.05" fill="#8cbd16"/>
<rect x="568.00" y="395.20" width="4.1" height="14.30" rx="2.05" fill="#8cbd16"/>
<rect x="579.50" y="395.20" width="4.1" height="14.30" rx="2.05" fill="#8cbd16"/>
<rect x="587.50" y="395.20" width="4.1" height="14.30" rx="2.05" fill="#8cbd16"/>
<rect x="599.00" y="395.20" width="4.1" height="14.30" rx="2.05" fill="#8cbd16"/>
<rect x="607.00" y="395.20" width="4.1" height="14.30" rx="2.05" fill="#8cbd16"/>
<path transform="translate(131.05,418.42) scale(1.033)" d="M6,10.9 C4.8,10 0,7 0,3.6 C0,1.5 1.5,0 3.3,0 C4.6,0 5.5,0.6 6,1.4 C6.5,0.6 7.4,0 8.7,0 C10.5,0 12,1.5 12,3.6 C12,7 7.2,10 6,10.9 Z" fill="#fd50ab"/>
<path transform="translate(189.55,418.42) scale(1.033)" d="M6,10.9 C4.8,10 0,7 0,3.6 C0,1.5 1.5,0 3.3,0 C4.6,0 5.5,0.6 6,1.4 C6.5,0.6 7.4,0 8.7,0 C10.5,0 12,1.5 12,3.6 C12,7 7.2,10 6,10.9 Z" fill="#fd50ab"/>
<path transform="translate(209.05,418.42) scale(1.033)" d="M6,10.9 C4.8,10 0,7 0,3.6 C0,1.5 1.5,0 3.3,0 C4.6,0 5.5,0.6 6,1.4 C6.5,0.6 7.4,0 8.7,0 C10.5,0 12,1.5 12,3.6 C12,7 7.2,10 6,10.9 Z" fill="#fd50ab"/>
<path transform="translate(267.55,418.42) scale(1.033)" d="M6,10.9 C4.8,10 0,7 0,3.6 C0,1.5 1.5,0 3.3,0 C4.6,0 5.5,0.6 6,1.4 C6.5,0.6 7.4,0 8.7,0 C10.5,0 12,1.5 12,3.6 C12,7 7.2,10 6,10.9 Z" fill="#fd50ab"/>
<path transform="translate(287.05,418.42) scale(1.033)" d="M6,10.9 C4.8,10 0,7 0,3.6 C0,1.5 1.5,0 3.3,0 C4.6,0 5.5,0.6 6,1.4 C6.5,0.6 7.4,0 8.7,0 C10.5,0 12,1.5 12,3.6 C12,7 7.2,10 6,10.9 Z" fill="#fd50ab"/>
<path transform="translate(306.55,418.42) scale(1.033)" d="M6,10.9 C4.8,10 0,7 0,3.6 C0,1.5 1.5,0 3.3,0 C4.6,0 5.5,0.6 6,1.4 C6.5,0.6 7.4,0 8.7,0 C10.5,0 12,1.5 12,3.6 C12,7 7.2,10 6,10.9 Z" fill="#fd50ab"/>
<path transform="translate(345.55,418.42) scale(1.033)" d="M6,10.9 C4.8,10 0,7 0,3.6 C0,1.5 1.5,0 3.3,0 C4.6,0 5.5,0.6 6,1.4 C6.5,0.6 7.4,0 8.7,0 C10.5,0 12,1.5 12,3.6 C12,7 7.2,10 6,10.9 Z" fill="#fd50ab"/>
<path transform="translate(384.55,418.42) scale(1.033)" d="M6,10.9 C4.8,10 0,7 0,3.6 C0,1.5 1.5,0 3.3,0 C4.6,0 5.5,0.6 6,1.4 C6.5,0.6 7.4,0 8.7,0 C10.5,0 12,1.5 12,3.6 C12,7 7.2,10 6,10.9 Z" fill="#fd50ab"/>
<path transform="translate(404.05,418.42) scale(1.033)" d="M6,10.9 C4.8,10 0,7 0,3.6 C0,1.5 1.5,0 3.3,0 C4.6,0 5.5,0.6 6,1.4 C6.5,0.6 7.4,0 8.7,0 C10.5,0 12,1.5 12,3.6 C12,7 7.2,10 6,10.9 Z" fill="#fd50ab"/>
<path transform="translate(521.05,418.42) scale(1.033)" d="M6,10.9 C4.8,10 0,7 0,3.6 C0,1.5 1.5,0 3.3,0 C4.6,0 5.5,0.6 6,1.4 C6.5,0.6 7.4,0 8.7,0 C10.5,0 12,1.5 12,3.6 C12,7 7.2,10 6,10.9 Z" fill="#fd50ab"/>
<path transform="translate(540.55,418.42) scale(1.033)" d="M6,10.9 C4.8,10 0,7 0,3.6 C0,1.5 1.5,0 3.3,0 C4.6,0 5.5,0.6 6,1.4 C6.5,0.6 7.4,0 8.7,0 C10.5,0 12,1.5 12,3.6 C12,7 7.2,10 6,10.9 Z" fill="#fd50ab"/>
<path transform="translate(579.55,418.42) scale(1.033)" d="M6,10.9 C4.8,10 0,7 0,3.6 C0,1.5 1.5,0 3.3,0 C4.6,0 5.5,0.6 6,1.4 C6.5,0.6 7.4,0 8.7,0 C10.5,0 12,1.5 12,3.6 C12,7 7.2,10 6,10.9 Z" fill="#fd50ab"/>
<path d="M195.75,459.50 C196.50,463.52 200.75,466.65 200.75,467.90 A5.00,5.00 0 0 1 190.75,467.90 C190.75,466.65 195.00,463.52 195.75,459.50 Z" fill="#6cbff0"/>
<path d="M215.25,460.80 C219.15,460.80 220.45,465.76 220.45,468.24 C220.45,471.71 218.11,473.20 215.25,473.20 C212.39,473.20 210.05,471.71 210.05,468.24 C210.05,465.76 211.35,460.80 215.25,460.80 Z" fill="#6cbff0"/>
<path d="M234.75,460.80 C238.65,460.80 239.95,465.76 239.95,468.24 C239.95,471.71 237.61,473.20 234.75,473.20 C231.89,473.20 229.55,471.71 229.55,468.24 C229.55,465.76 230.85,460.80 234.75,460.80 Z" fill="#6cbff0"/>
<path d="M254.25,460.80 C258.15,460.80 259.45,465.76 259.45,468.24 C259.45,471.71 257.11,473.20 254.25,473.20 C251.39,473.20 249.05,471.71 249.05,468.24 C249.05,465.76 250.35,460.80 254.25,460.80 Z" fill="#6cbff0"/>
<path d="M312.75,460.80 C316.65,460.80 317.95,465.76 317.95,468.24 C317.95,471.71 315.61,473.20 312.75,473.20 C309.89,473.20 307.55,471.71 307.55,468.24 C307.55,465.76 308.85,460.80 312.75,460.80 Z" fill="#6cbff0"/>
<path transform="translate(327.25,460.50) scale(1.000)" d="M0.5,0.3 C4.5,1 9.8,3.6 9.8,7.6 C9.8,10.2 7.8,12 5.2,12 C2.6,12 0.8,10.3 0.8,8.2 C0.8,6.1 2.5,4.8 4.4,4.8 C4.9,4.8 5.3,4.9 5.7,5.1 C4.8,3 2.9,1.3 0.5,0.3 Z" fill="#6cbff0"/>
<path transform="translate(346.75,460.50) scale(1.000)" d="M0.5,0.3 C4.5,1 9.8,3.6 9.8,7.6 C9.8,10.2 7.8,12 5.2,12 C2.6,12 0.8,10.3 0.8,8.2 C0.8,6.1 2.5,4.8 4.4,4.8 C4.9,4.8 5.3,4.9 5.7,5.1 C4.8,3 2.9,1.3 0.5,0.3 Z" fill="#6cbff0"/>
<path transform="translate(366.25,460.50) scale(1.000)" d="M0.5,0.3 C4.5,1 9.8,3.6 9.8,7.6 C9.8,10.2 7.8,12 5.2,12 C2.6,12 0.8,10.3 0.8,8.2 C0.8,6.1 2.5,4.8 4.4,4.8 C4.9,4.8 5.3,4.9 5.7,5.1 C4.8,3 2.9,1.3 0.5,0.3 Z" fill="#6cbff0"/>
<path transform="translate(424.75,460.50) scale(1.000)" d="M0.5,0.3 C4.5,1 9.8,3.6 9.8,7.6 C9.8,10.2 7.8,12 5.2,12 C2.6,12 0.8,10.3 0.8,8.2 C0.8,6.1 2.5,4.8 4.4,4.8 C4.9,4.8 5.3,4.9 5.7,5.1 C4.8,3 2.9,1.3 0.5,0.3 Z" fill="#6cbff0"/>
<path transform="translate(444.25,460.50) scale(1.000)" d="M0.5,0.3 C4.5,1 9.8,3.6 9.8,7.6 C9.8,10.2 7.8,12 5.2,12 C2.6,12 0.8,10.3 0.8,8.2 C0.8,6.1 2.5,4.8 4.4,4.8 C4.9,4.8 5.3,4.9 5.7,5.1 C4.8,3 2.9,1.3 0.5,0.3 Z" fill="#6cbff0"/>
<path transform="translate(463.75,460.50) scale(1.000)" d="M0.5,0.3 C4.5,1 9.8,3.6 9.8,7.6 C9.8,10.2 7.8,12 5.2,12 C2.6,12 0.8,10.3 0.8,8.2 C0.8,6.1 2.5,4.8 4.4,4.8 C4.9,4.8 5.3,4.9 5.7,5.1 C4.8,3 2.9,1.3 0.5,0.3 Z" fill="#6cbff0"/>
<path transform="translate(483.25,460.50) scale(1.000)" d="M0.5,0.3 C4.5,1 9.8,3.6 9.8,7.6 C9.8,10.2 7.8,12 5.2,12 C2.6,12 0.8,10.3 0.8,8.2 C0.8,6.1 2.5,4.8 4.4,4.8 C4.9,4.8 5.3,4.9 5.7,5.1 C4.8,3 2.9,1.3 0.5,0.3 Z" fill="#6cbff0"/>
<path transform="translate(502.75,460.50) scale(1.000)" d="M0.5,0.3 C4.5,1 9.8,3.6 9.8,7.6 C9.8,10.2 7.8,12 5.2,12 C2.6,12 0.8,10.3 0.8,8.2 C0.8,6.1 2.5,4.8 4.4,4.8 C4.9,4.8 5.3,4.9 5.7,5.1 C4.8,3 2.9,1.3 0.5,0.3 Z" fill="#6cbff0"/>
<path transform="translate(522.25,460.50) scale(1.000)" d="M0.5,0.3 C4.5,1 9.8,3.6 9.8,7.6 C9.8,10.2 7.8,12 5.2,12 C2.6,12 0.8,10.3 0.8,8.2 C0.8,6.1 2.5,4.8 4.4,4.8 C4.9,4.8 5.3,4.9 5.7,5.1 C4.8,3 2.9,1.3 0.5,0.3 Z" fill="#6cbff0"/>
<path transform="translate(541.75,460.50) scale(1.000)" d="M0.5,0.3 C4.5,1 9.8,3.6 9.8,7.6 C9.8,10.2 7.8,12 5.2,12 C2.6,12 0.8,10.3 0.8,8.2 C0.8,6.1 2.5,4.8 4.4,4.8 C4.9,4.8 5.3,4.9 5.7,5.1 C4.8,3 2.9,1.3 0.5,0.3 Z" fill="#6cbff0"/>
<path transform="translate(580.75,460.50) scale(1.000)" d="M0.5,0.3 C4.5,1 9.8,3.6 9.8,7.6 C9.8,10.2 7.8,12 5.2,12 C2.6,12 0.8,10.3 0.8,8.2 C0.8,6.1 2.5,4.8 4.4,4.8 C4.9,4.8 5.3,4.9 5.7,5.1 C4.8,3 2.9,1.3 0.5,0.3 Z" fill="#6cbff0"/>
<path transform="translate(600.25,460.50) scale(1.000)" d="M0.5,0.3 C4.5,1 9.8,3.6 9.8,7.6 C9.8,10.2 7.8,12 5.2,12 C2.6,12 0.8,10.3 0.8,8.2 C0.8,6.1 2.5,4.8 4.4,4.8 C4.9,4.8 5.3,4.9 5.7,5.1 C4.8,3 2.9,1.3 0.5,0.3 Z" fill="#6cbff0"/>
<path transform="translate(561.89,460.50) scale(1.091)" d="M0,0 H8 V1.3 C6.1,1.8 4.7,3.2 4.7,5.5 C4.7,7.8 6.1,9.2 8,9.7 V11 H0 V9.7 C1.9,9.2 3.3,7.8 3.3,5.5 C3.3,3.2 1.9,1.8 0,1.3 Z" fill="#6cbff0"/>
<text x="59.2" y="492" text-anchor="middle" font-size="10" fill="#6a6a6a" stroke="#6a6a6a" stroke-width="0.2" letter-spacing="-0.3">26</text>
<text x="78.8" y="492" text-anchor="middle" font-size="10" fill="#6a6a6a" stroke="#6a6a6a" stroke-width="0.2" letter-spacing="-0.3">27</text>
<text x="98.2" y="492" text-anchor="middle" font-size="10" fill="#6a6a6a" stroke="#6a6a6a" stroke-width="0.2" letter-spacing="-0.3">28</text>
<text x="117.8" y="492" text-anchor="middle" font-size="10" fill="#6a6a6a" stroke="#6a6a6a" stroke-width="0.2" letter-spacing="-0.3">29</text>
<text x="137.2" y="492" text-anchor="middle" font-size="10" fill="#e8436a" stroke="#e8436a" stroke-width="0.2" letter-spacing="-0.3">30</text>
<text x="156.8" y="492" text-anchor="middle" font-size="10" fill="#e8436a" stroke="#e8436a" stroke-width="0.2" letter-spacing="-0.3">01</text>
<text x="176.2" y="492" text-anchor="middle" font-size="10" fill="#6a6a6a" stroke="#6a6a6a" stroke-width="0.2" letter-spacing="-0.3">02</text>
<text x="195.8" y="492" text-anchor="middle" font-size="10" fill="#6a6a6a" stroke="#6a6a6a" stroke-width="0.2" letter-spacing="-0.3">03</text>
<text x="215.2" y="492" text-anchor="middle" font-size="10" fill="#6a6a6a" stroke="#6a6a6a" stroke-width="0.2" letter-spacing="-0.3">04</text>
<text x="234.8" y="492" text-anchor="middle" font-size="10" fill="#6a6a6a" stroke="#6a6a6a" stroke-width="0.2" letter-spacing="-0.3">05</text>
<text x="254.2" y="492" text-anchor="middle" font-size="10" fill="#6a6a6a" stroke="#6a6a6a" stroke-width="0.2" letter-spacing="-0.3">06</text>
<text x="273.8" y="492" text-anchor="middle" font-size="10" fill="#e8436a" stroke="#e8436a" stroke-width="0.2" letter-spacing="-0.3">07</text>
<text x="293.2" y="492" text-anchor="middle" font-size="10" fill="#e8436a" stroke="#e8436a" stroke-width="0.2" letter-spacing="-0.3">08</text>
<text x="312.8" y="492" text-anchor="middle" font-size="10" fill="#6a6a6a" stroke="#6a6a6a" stroke-width="0.2" letter-spacing="-0.3">09</text>
<text x="332.2" y="492" text-anchor="middle" font-size="10" fill="#6a6a6a" stroke="#6a6a6a" stroke-width="0.2" letter-spacing="-0.3">10</text>
<text x="351.8" y="492" text-anchor="middle" font-size="10" fill="#6a6a6a" stroke="#6a6a6a" stroke-width="0.2" letter-spacing="-0.3">11</text>
<text x="371.2" y="492" text-anchor="middle" font-size="10" fill="#6a6a6a" stroke="#6a6a6a" stroke-width="0.2" letter-spacing="-0.3">12</text>
<text x="390.8" y="492" text-anchor="middle" font-size="10" fill="#6a6a6a" stroke="#6a6a6a" stroke-width="0.2" letter-spacing="-0.3">13</text>
<text x="410.2" y="492" text-anchor="middle" font-size="10" fill="#e8436a" stroke="#e8436a" stroke-width="0.2" letter-spacing="-0.3">14</text>
<text x="429.8" y="492" text-anchor="middle" font-size="10" fill="#e8436a" stroke="#e8436a" stroke-width="0.2" letter-spacing="-0.3">15</text>
<text x="449.2" y="492" text-anchor="middle" font-size="10" fill="#6a6a6a" stroke="#6a6a6a" stroke-width="0.2" letter-spacing="-0.3">16</text>
<text x="468.8" y="492" text-anchor="middle" font-size="10" fill="#6a6a6a" stroke="#6a6a6a" stroke-width="0.2" letter-spacing="-0.3">17</text>
<text x="488.2" y="492" text-anchor="middle" font-size="10" fill="#6a6a6a" stroke="#6a6a6a" stroke-width="0.2" letter-spacing="-0.3">18</text>
<text x="507.8" y="492" text-anchor="middle" font-size="10" fill="#6a6a6a" stroke="#6a6a6a" stroke-width="0.2" letter-spacing="-0.3">19</text>
<text x="527.2" y="492" text-anchor="middle" font-size="10" fill="#6a6a6a" stroke="#6a6a6a" stroke-width="0.2" letter-spacing="-0.3">20</text>
<text x="546.8" y="492" text-anchor="middle" font-size="10" fill="#e8436a" stroke="#e8436a" stroke-width="0.2" letter-spacing="-0.3">21</text>
<text x="566.2" y="492" text-anchor="middle" font-size="10" fill="#e8436a" stroke="#e8436a" stroke-width="0.2" letter-spacing="-0.3">22</text>
<text x="585.8" y="492" text-anchor="middle" font-size="10" fill="#6a6a6a" stroke="#6a6a6a" stroke-width="0.2" letter-spacing="-0.3">23</text>
<rect x="596" y="477.2" width="18" height="18.6" fill="#92d8f3"/>
<text x="597.6" y="490.4" font-size="11.6" fill="#3d5c6e" stroke="#3d5c6e" stroke-width="0.25" letter-spacing="-0.7">24</text>
<text x="624.8" y="492" text-anchor="middle" font-size="10" fill="#6a6a6a" stroke="#6a6a6a" stroke-width="0.2" letter-spacing="-0.3">25</text>
<text x="644.2" y="492" text-anchor="middle" font-size="10" fill="#6a6a6a" stroke="#6a6a6a" stroke-width="0.2" letter-spacing="-0.3">26</text>
<line x1="147.5" y1="480" x2="147.5" y2="508" stroke="#555" stroke-width="1"/>
<text x="50" y="508" font-size="11" fill="#777">Апрель</text>
<text x="151" y="508" font-size="11" fill="#777">Май</text>
<text x="43" y="522.5" font-size="10.5" font-weight="bold" fill="#222">Менструация</text>
<path d="M49.70,531.05 C51.20,534.42 54.70,538.05 54.70,539.55 A5.00,5.00 0 0 1 44.70,539.55 C44.70,538.05 48.20,534.42 49.70,531.05 Z" fill="#f2434b"/>
<text x="62.5" y="543" font-size="10.5" fill="#3a3a3a" stroke="#3a3a3a" stroke-width="0.25">Менструация</text>
<path d="M49.90,555.00 C50.83,557.50 53.00,560.97 53.00,561.90 A3.10,3.10 0 0 1 46.80,561.90 C46.80,560.97 48.97,557.50 49.90,555.00 Z" fill="#f2434b"/>
<text x="62.5" y="564" font-size="10.5" fill="#3a3a3a" stroke="#3a3a3a" stroke-width="0.25">Небольшие выделения</text>
<text x="200.5" y="522.5" font-size="10.5" font-weight="bold" fill="#222">Тест на овуляцию</text>
<circle cx="206.8" cy="538.5" r="7.2" fill="#f8d24a"/>
<text x="221" y="543" font-size="10.5" fill="#3a3a3a" stroke="#3a3a3a" stroke-width="0.25">Положительный</text>
<circle cx="206.8" cy="559" r="6.6" fill="#fff" stroke="#f6da7a" stroke-width="1.1"/>
<text x="221" y="564" font-size="10.5" fill="#3a3a3a" stroke="#3a3a3a" stroke-width="0.25">Отрицательный</text>
<text x="334" y="522.5" font-size="10.5" font-weight="bold" fill="#222">Тест на беременность</text>
<rect x="334.60" y="531.80" width="3.4" height="12.20" rx="1.70" fill="#8cbd16"/>
<rect x="343.00" y="531.80" width="3.4" height="12.20" rx="1.70" fill="#8cbd16"/>
<text x="354" y="543" font-size="10.5" fill="#3a3a3a" stroke="#3a3a3a" stroke-width="0.25">Положительный</text>
<rect x="339.00" y="553.00" width="3.4" height="11.50" rx="1.70" fill="#8cbd16"/>
<text x="354" y="564" font-size="10.5" fill="#3a3a3a" stroke="#3a3a3a" stroke-width="0.25">Отрицательный</text>
<rect x="334.60" y="574.20" width="3.4" height="11.30" rx="1.70" fill="#8cbd16"/>
<rect x="343.00" y="574.20" width="3.4" height="11.30" rx="1.70" fill="#d2e396"/>
<text x="354" y="585" font-size="10.5" fill="#3a3a3a" stroke="#3a3a3a" stroke-width="0.25">Слабоположительный</text>
<text x="494" y="522.5" font-size="10.85" font-weight="bold" fill="#222">Цервикальная жидкость</text>
<path d="M501.00,535.45 C502.35,538.33 505.50,541.10 505.50,542.45 A4.50,4.50 0 0 1 496.50,542.45 C496.50,541.10 499.65,538.33 501.00,535.45 Z" fill="#fff" stroke="#6cbff0" stroke-width="1"/>
<text x="515.2" y="545.5" font-size="10.5" fill="#3a3a3a" stroke="#3a3a3a" stroke-width="0.25">Сухо</text>
<path transform="translate(497.50,557.00) scale(1.000)" d="M0,0 H8 V1.3 C6.1,1.8 4.7,3.2 4.7,5.5 C4.7,7.8 6.1,9.2 8,9.7 V11 H0 V9.7 C1.9,9.2 3.3,7.8 3.3,5.5 C3.3,3.2 1.9,1.8 0,1.3 Z" fill="#6cbff0"/>
<text x="515.2" y="566" font-size="10.5" fill="#3a3a3a" stroke="#3a3a3a" stroke-width="0.25">Клейкая</text>
<path transform="translate(496.42,576.90) scale(1.017)" d="M0.5,0.3 C4.5,1 9.8,3.6 9.8,7.6 C9.8,10.2 7.8,12 5.2,12 C2.6,12 0.8,10.3 0.8,8.2 C0.8,6.1 2.5,4.8 4.4,4.8 C4.9,4.8 5.3,4.9 5.7,5.1 C4.8,3 2.9,1.3 0.5,0.3 Z" fill="#6cbff0"/>
<text x="515.2" y="587" font-size="10.5" fill="#3a3a3a" stroke="#3a3a3a" stroke-width="0.25">Кремообразная</text>
<path d="M501.20,595.45 C501.91,599.20 505.95,602.01 505.95,603.20 A4.75,4.75 0 0 1 496.45,603.20 C496.45,602.01 500.49,599.20 501.20,595.45 Z" fill="#6cbff0"/>
<text x="515.2" y="607" font-size="10.5" fill="#3a3a3a" stroke="#3a3a3a" stroke-width="0.25">Водянистая</text>
<path d="M501.50,616.55 C504.99,616.55 506.15,621.55 506.15,624.05 C506.15,627.55 504.06,629.05 501.50,629.05 C498.94,629.05 496.85,627.55 496.85,624.05 C496.85,621.55 498.01,616.55 501.50,616.55 Z" fill="#6cbff0"/>
<text x="515.2" y="628" font-size="10.5" fill="#3a3a3a" stroke="#3a3a3a" stroke-width="0.25">Яичный белок</text>
<path transform="translate(42.05,617.42) scale(1.125)" d="M6,10.9 C4.8,10 0,7 0,3.6 C0,1.5 1.5,0 3.3,0 C4.6,0 5.5,0.6 6,1.4 C6.5,0.6 7.4,0 8.7,0 C10.5,0 12,1.5 12,3.6 C12,7 7.2,10 6,10.9 Z" fill="#fd50ab"/>
<text x="62.3" y="628" font-size="10.5" fill="#3a3a3a" stroke="#3a3a3a" stroke-width="0.25">Половой акт</text>
<circle cx="153" cy="623.5" r="7.5" fill="#cfcfcf"/>
<line x1="149.5" y1="627" x2="156.5" y2="620" stroke="#fff" stroke-width="2" stroke-linecap="round"/>
<text x="165.5" y="628" font-size="10.5" fill="#3a3a3a" stroke="#3a3a3a" stroke-width="0.25">Прием лекарств</text>
<path d="M274.06,616.60 A7.2,7.2 0 1 0 282.70,625.60 A5.76,5.76 0 0 1 274.06,616.60 Z" fill="#f39a1d"/>
<text x="288.6" y="628" font-size="10.5" fill="#3a3a3a" stroke="#3a3a3a" stroke-width="0.25">Лунный календарь</text>
</svg>
</body></html>
